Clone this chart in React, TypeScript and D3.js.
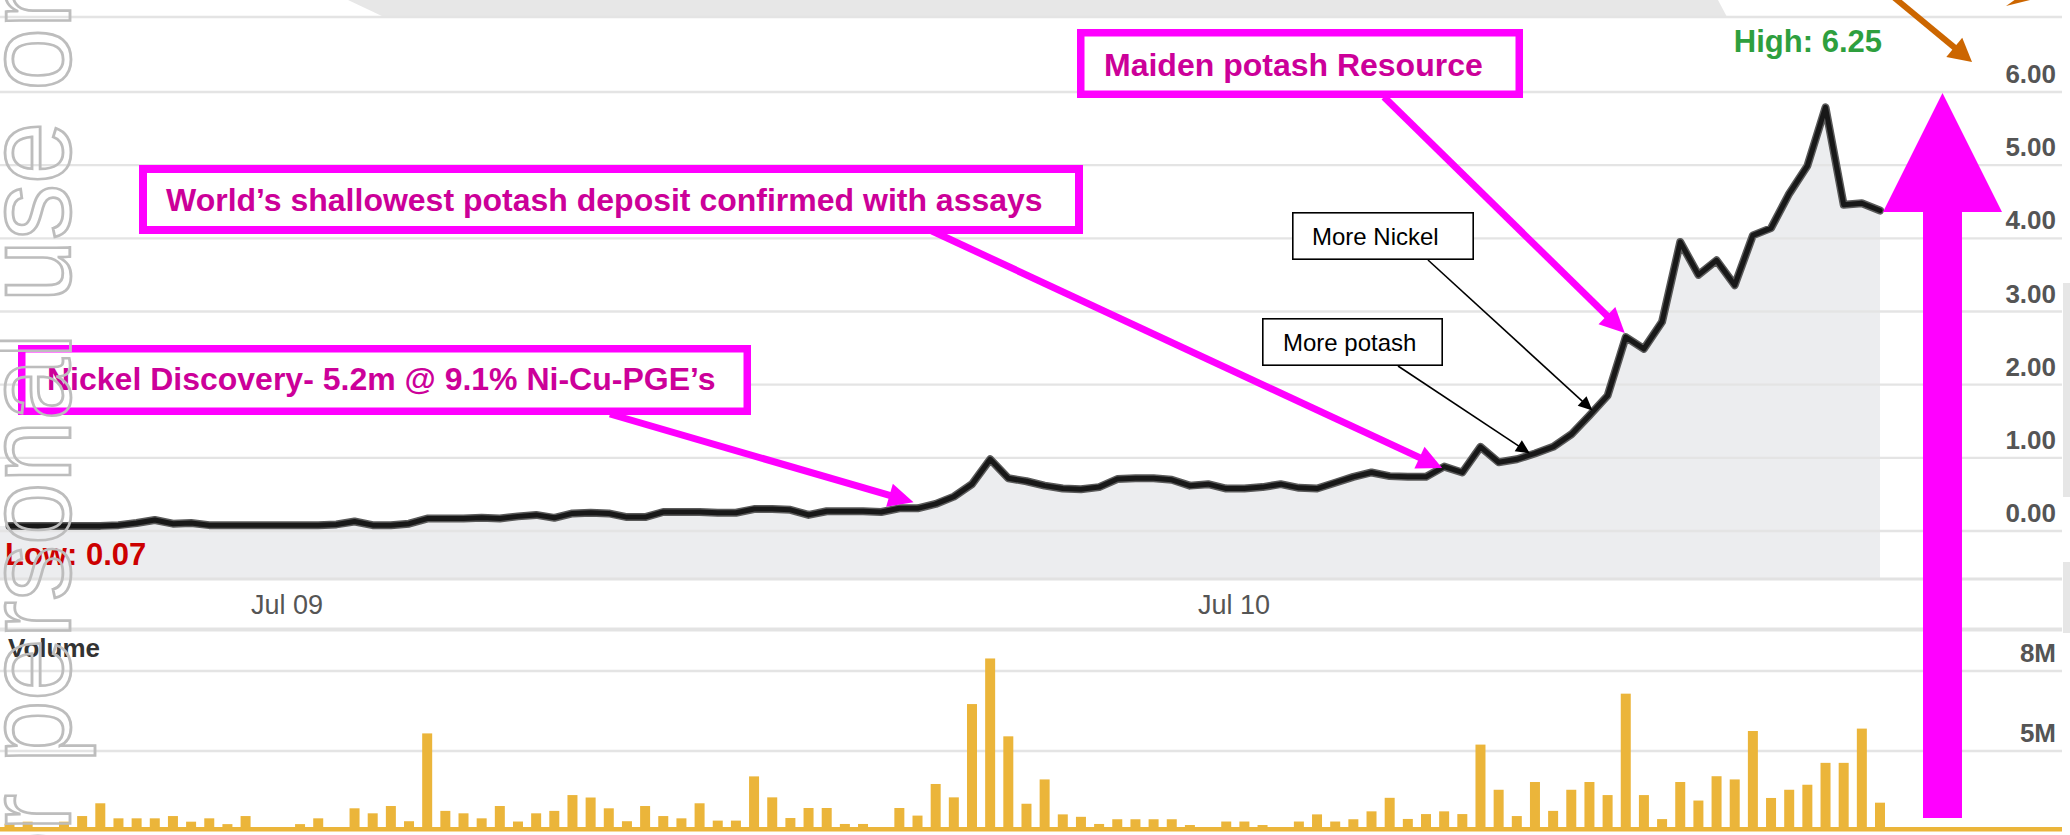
import React from "react";
import * as d3 from "d3";

const W = 2070;
const H = 835;

// ---- data (weekly) ----
const START_DATE = new Date(2009, 2, 16);
const PRICE = [
  0.07, 0.07, 0.07, 0.07, 0.07, 0.07, 0.08, 0.11, 0.15, 0.10,
  0.11, 0.08, 0.08, 0.08, 0.08, 0.08, 0.08, 0.08, 0.09, 0.13,
  0.08, 0.08, 0.10, 0.17, 0.17, 0.17, 0.18, 0.17, 0.20, 0.22,
  0.18, 0.24, 0.25, 0.24, 0.19, 0.19, 0.26, 0.26, 0.26, 0.25,
  0.25, 0.30, 0.30, 0.29, 0.22, 0.27, 0.27, 0.27, 0.26, 0.31,
  0.31, 0.37, 0.47, 0.64, 0.98, 0.72, 0.68, 0.62, 0.58, 0.57,
  0.60, 0.71, 0.72, 0.72, 0.70, 0.62, 0.64, 0.58, 0.58, 0.60,
  0.64, 0.59, 0.58, 0.66, 0.74, 0.80, 0.75, 0.74, 0.74, 0.88,
  0.80, 1.15, 0.94, 0.98, 1.06, 1.15, 1.32, 1.58, 1.85, 2.65,
  2.49, 2.86, 3.95, 3.50, 3.70, 3.36, 4.04, 4.14, 4.61, 4.99,
  5.79, 4.46, 4.48, 4.38,
];
const VOLUME_M = [
  0.22, 0.35, 0, 0.35, 0.72, 1.56, 0.57, 0.57, 0.57, 0.72,
  0.35, 0.57, 0.19, 0.72, 0, 0, 0.19, 0.57, 0, 1.23,
  0.90, 1.38, 0.38, 5.66, 1.06, 0.90, 0.57, 1.38, 0.36, 0.90,
  1.06, 2.10, 1.94, 1.23, 0.38, 1.38, 0.72, 0.57, 1.56, 0.42,
  0.42, 3.33, 1.95, 0.59, 1.25, 1.25, 0.20, 0.20, 0, 1.25,
  0.75, 2.83, 1.95, 6.76, 8.47, 5.55, 1.53, 3.13, 0.83, 0.67,
  0.20, 0.51, 0.51, 0.51, 0.51, 0.13, 0, 0.36, 0.36, 0.13,
  0, 0.36, 0.83, 0.36, 0.51, 1.03, 1.92, 0.53, 0.85, 1.03,
  0.85, 5.24, 2.45, 0.72, 2.96, 1.06, 2.45, 2.96, 2.10, 7.15,
  2.10, 0.52, 2.96, 1.74, 3.34, 3.13, 5.75, 1.91, 2.45, 2.78,
  4.22, 4.22, 5.84, 1.60,
];
const PRICE_TICKS = [0, 1, 2, 3, 4, 5, 6];
const VOLUME_TICKS = [5, 8];
const VOLUME_TICK_LABELS = ["5M", "8M"];
const X_TICKS = [new Date(2009, 6, 1), new Date(2010, 6, 1)];
const X_TICK_LABELS = ["Jul 09", "Jul 10"];
const HIGH_LABEL = "High: 6.25";
const LOW_LABEL = "Low: 0.07";
const VOLUME_TITLE = "Volume";
const WATERMARK = "For personal use only";

const DATES = PRICE.map((_, i) => d3.timeDay.offset(START_DATE, 7 * i));
const ROWS = DATES.map((d, i) => ({ date: d, price: PRICE[i], vol: VOLUME_M[i] }));

// ---- scales ----
const x = d3.scaleTime().domain([DATES[0], DATES[DATES.length - 1]]).range([9.5, 1880]);
const yP = d3.scaleLinear().domain([0, 6]).range([531, 92]);
const yV = d3.scaleLinear().domain([0, 5, 8]).range([827, 751, 671]);

const PLOT_BOTTOM = 578;
const GRID_RIGHT = 2062;
const FONT = "'Liberation Sans', Arial, Helvetica, sans-serif";

const MAGENTA = "#ff00ff";
const MAGENTA_TEXT = "#cc0099";
const ORANGE = "#cc6600";
const BAR = "#ebb53a";

function arrowParts(x1: number, y1: number, x2: number, y2: number, L: number, Wd: number) {
  const dx = x2 - x1, dy = y2 - y1;
  const len = Math.hypot(dx, dy);
  const ux = dx / len, uy = dy / len;
  const bx = x2 - ux * L, by = y2 - uy * L;
  const px = -uy, py = ux;
  return {
    x1, y1,
    x2: bx + ux * 2,
    y2: by + uy * 2,
    head: `${x2},${y2} ${bx + px * Wd},${by + py * Wd} ${bx - px * Wd},${by - py * Wd}`,
  };
}

function Arrow({ from, to, color, width, L, Wd }: any) {
  const a = arrowParts(from[0], from[1], to[0], to[1], L, Wd);
  return (
    <g>
      <line x1={a.x1} y1={a.y1} x2={a.x2} y2={a.y2} stroke={color} strokeWidth={width} />
      <polygon points={a.head} fill={color} />
    </g>
  );
}

function tipAt(i: number, dx: number, dy: number): [number, number] {
  return [x(DATES[i]) + dx, yP(PRICE[i]) + dy];
}

export default function App() {
  const line = d3
    .line<any>()
    .x((d) => x(d.date))
    .y((d) => yP(d.price));
  const areaRows = [{ date: x.invert(0), price: PRICE[0] }, ...ROWS];
  const area = d3
    .area<any>()
    .x((d) => x(d.date))
    .y0(PLOT_BOTTOM)
    .y1((d) => yP(d.price));
  const fmt = d3.format(".2f");
  const barW = 10;

  return (
    <svg
      width={W}
      height={H}
      viewBox={`0 0 ${W} ${H}`}
      style={{ position: "absolute", left: 0, top: 0, display: "block", background: "#fff" }}
      fontFamily={FONT}
    >
      <rect x={0} y={0} width={W} height={H} fill="#fff" />
      {/* slide decoration */}
      <polygon points="348,0 1718,0 1727,17 384,17" fill="#e7e7e7" />
      <rect x={2063} y={283} width={7} height={214} fill="#e6e6e6" />
      <rect x={2063} y={562} width={7} height={71} fill="#e6e6e6" />

      {/* price area */}
      <path d={area(areaRows) || ""} fill="#ecedef" />

      {/* grid */}
      <line x1={0} x2={GRID_RIGHT} y1={17} y2={17} stroke="#e4e4e4" strokeWidth={2.3} />
      {PRICE_TICKS.map((t) => (
        <line key={"pg" + t} x1={0} x2={GRID_RIGHT} y1={yP(t)} y2={yP(t)} stroke="#e4e4e4" strokeWidth={2.3} />
      ))}
      <line x1={0} x2={GRID_RIGHT} y1={PLOT_BOTTOM + 1} y2={PLOT_BOTTOM + 1} stroke="#e2e2e2" strokeWidth={3} />
      <line x1={0} x2={GRID_RIGHT} y1={629.5} y2={629.5} stroke="#e3e3e3" strokeWidth={4} />
      {VOLUME_TICKS.map((t) => (
        <line key={"vg" + t} x1={0} x2={GRID_RIGHT} y1={yV(t)} y2={yV(t)} stroke="#e4e4e4" strokeWidth={2.3} />
      ))}

      {/* price line */}
      <path d={line(ROWS) || ""} fill="none" stroke="#5a5a5a" strokeWidth={8} strokeLinejoin="round" strokeLinecap="round" />
      <path d={line(ROWS) || ""} fill="none" stroke="#181818" strokeWidth={5} strokeLinejoin="round" strokeLinecap="round" />

      {/* volume bars */}
      {ROWS.map((r, i) =>
        r.vol > 0 ? (
          <rect key={"b" + i} x={x(r.date) - barW / 2} y={yV(r.vol)} width={barW} height={yV(0) - yV(r.vol)} fill={BAR} />
        ) : null
      )}
      <rect x={0} y={yV(0)} width={GRID_RIGHT} height={4.5} fill={BAR} />

      {/* axis labels */}
      {PRICE_TICKS.map((t) => (
        <text key={"pl" + t} x={2056} y={yP(t) - 9} textAnchor="end" fontSize={26} fontWeight="bold" fill="#555">
          {fmt(t)}
        </text>
      ))}
      {VOLUME_TICKS.map((t, i) => (
        <text key={"vl" + t} x={2056} y={yV(t) - 9} textAnchor="end" fontSize={26} fontWeight="bold" fill="#555">
          {VOLUME_TICK_LABELS[i]}
        </text>
      ))}
      {X_TICKS.map((d, i) => (
        <text key={"xl" + i} x={x(d)} y={614} textAnchor="middle" fontSize={27} fill="#555">
          {X_TICK_LABELS[i]}
        </text>
      ))}
      <text x={8} y={657} fontSize={26} fontWeight="bold" fill="#333">{VOLUME_TITLE}</text>
      <text x={5} y={565} fontSize={31} fontWeight="bold" fill="#cc0000">{LOW_LABEL}</text>
      <text x={1882} y={52} textAnchor="end" fontSize={31} fontWeight="bold" fill="#2e9f3e">{HIGH_LABEL}</text>

      {/* black callouts */}
      <Arrow from={[1428, 260]} to={tipAt(87, 3, -5)} color="#000" width={1.6} L={14} Wd={6.5} />
      <Arrow from={[1398, 366]} to={tipAt(84, -5, 0)} color="#000" width={1.6} L={14} Wd={6.5} />
      <rect x={1292.8} y={212.8} width={180.4} height={46.4} fill="#fff" stroke="#000" strokeWidth={1.6} />
      <text x={1312} y={245} fontSize={24} fill="#000">More Nickel</text>
      <rect x={1262.8} y={318.8} width={179.4} height={46.4} fill="#fff" stroke="#000" strokeWidth={1.6} />
      <text x={1283} y={351} fontSize={24} fill="#000">More potash</text>

      {/* magenta callouts */}
      <Arrow from={[610, 414]} to={tipAt(50, -4, -6)} color={MAGENTA} width={7} L={25} Wd={12} />
      <Arrow from={[932, 231]} to={tipAt(79, -2, 1.5)} color={MAGENTA} width={7} L={25} Wd={12} />
      <Arrow from={[1384, 97]} to={tipAt(89, -1, -4)} color={MAGENTA} width={7} L={25} Wd={12} />

      <rect x={21.75} y={348.75} width={725.5} height={62.5} fill="#fff" stroke={MAGENTA} strokeWidth={7.5} />
      <text x={47} y={390} fontSize={32} fontWeight="bold" fill={MAGENTA_TEXT}>
        Nickel Discovery- 5.2m @ 9.1% Ni-Cu-PGE’s
      </text>
      <rect x={143} y={169} width={936} height={61} fill="#fff" stroke={MAGENTA} strokeWidth={8} />
      <text x={166} y={211} fontSize={32} fontWeight="bold" fill={MAGENTA_TEXT}>
        World’s shallowest potash deposit confirmed with assays
      </text>
      <rect x={1080.75} y={32.75} width={438.5} height={61.5} fill="#fff" stroke={MAGENTA} strokeWidth={7.5} />
      <text x={1104} y={76} fontSize={32} fontWeight="bold" fill={MAGENTA_TEXT}>
        Maiden potash Resource
      </text>

      {/* big up arrow */}
      <polygon
        points="1942.5,93 2002,212 1962,212 1962,818 1923,818 1923,212 1883,212"
        fill={MAGENTA}
      />

      {/* orange arrows */}
      <Arrow from={[1885, -10]} to={[1972, 62]} color={ORANGE} width={6} L={23} Wd={12.5} />
      <polygon points="2006,6 2034,-1 2016,-1" fill={ORANGE} />

      {/* watermark */}
      <text
        transform="translate(70, 962) rotate(-90) scale(1, 1.08)"
        fontSize={112}
        fill="none"
        stroke="#bdbdbd"
        strokeWidth={2.6}
      >
        {WATERMARK}
      </text>
    </svg>
  );
}
